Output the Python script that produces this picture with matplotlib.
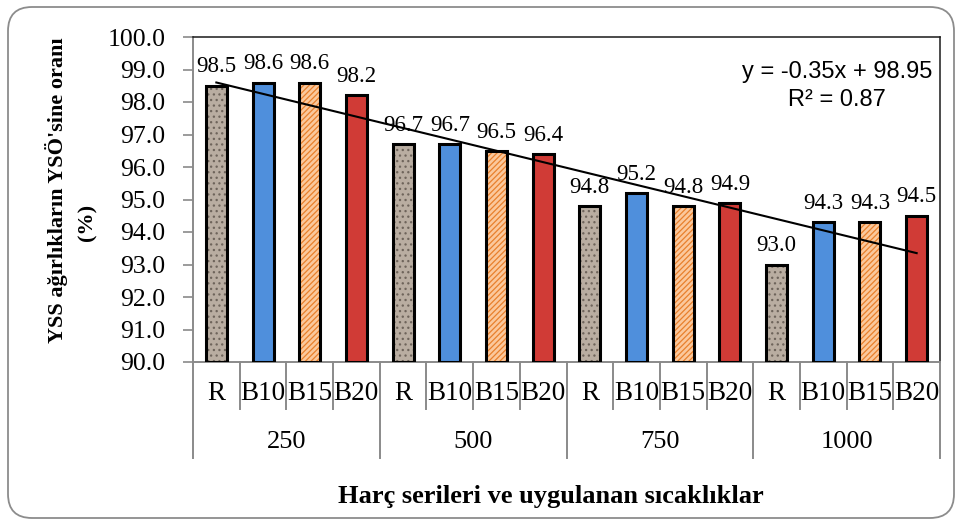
import matplotlib
matplotlib.use("Agg")
import matplotlib.pyplot as plt
import numpy as np
from matplotlib.patches import FancyBboxPatch
from matplotlib.transforms import IdentityTransform, blended_transform_factory

# ---- data ----
groups = ["250", "500", "750", "1000"]
series = ["R", "B10", "B15", "B20"]
values_250 = [98.5, 98.6, 98.6, 98.2]
values_500 = [96.7, 96.7, 96.5, 96.4]
values_750 = [94.8, 95.2, 94.8, 94.9]
values_1000 = [93.0, 94.3, 94.3, 94.5]
trend_slope = -0.35
trend_intercept = 98.95
r_squared = 0.87
y_ticks = [90.0, 91.0, 92.0, 93.0, 94.0, 95.0, 96.0, 97.0, 98.0, 99.0, 100.0]

all_values = values_250 + values_500 + values_750 + values_1000
n = len(all_values)
x = np.arange(1, n + 1)

plt.rcParams['font.family'] = ['Liberation Serif', 'DejaVu Serif']
plt.rcParams['hatch.linewidth'] = 0.9

W, H = 958, 523
fig = plt.figure(figsize=(W / 100, H / 100), dpi=100)
fig.patch.set_facecolor('white')

# outer rounded frame
frame = FancyBboxPatch((8, 5), 946, 511, boxstyle="round,pad=0,rounding_size=24",
                       transform=IdentityTransform(), facecolor='none',
                       edgecolor='#8c8c8c', linewidth=1.3)
fig.patches.append(frame)

left_px, right_px, top_px, bot_px = 193, 940, 37, 362
ax = fig.add_axes([left_px / W, 1 - bot_px / H, (right_px - left_px) / W, (bot_px - top_px) / H])
axh = bot_px - top_px

ax.set_xlim(0.5, n + 0.5)
ax.set_ylim(90, 100)

styles = {
    "R": dict(face='#b9ada1', hatch='...', hcol='#6e645b'),
    "B10": dict(face='#4f8fdc', hatch=None, hcol=None),
    "B15": dict(face='#fbc89c', hatch='//////', hcol='#e8802c'),
    "B20": dict(face='#d03b36', hatch=None, hcol=None),
}
bw = 0.45
for i, v in enumerate(all_values):
    s = series[i % 4]
    st = styles[s]
    if st['hatch']:
        ax.bar(x[i], v - 90, bottom=90, width=bw, color=st['face'], edgecolor=st['hcol'],
               hatch=st['hatch'], linewidth=0, zorder=2)
    else:
        ax.bar(x[i], v - 90, bottom=90, width=bw, color=st['face'], linewidth=0, zorder=2)
    ax.bar(x[i], v - 90, bottom=90, width=bw, fill=False, edgecolor='black',
           linewidth=2.2, zorder=3)
    ax.annotate(f"{v:.1f}", (x[i], v), xytext=(0, 13.5), textcoords='offset points',
                ha='center', va='center', fontsize=16.5, zorder=5)

# trendline
xt = np.array([1, n])
ax.plot(xt, trend_slope * xt + trend_intercept, color='black', linewidth=1.5, zorder=4)

# equation
fig.text(837 / W, 1 - 86 / H, f"y = {trend_slope}x + {trend_intercept}\nR² = {r_squared}",
         ha='center', va='center', multialignment='center', fontsize=17,
         family=['Liberation Sans', 'DejaVu Sans'], linespacing=1.3)

# spines
for sp in ['top', 'right']:
    ax.spines[sp].set_color('#1a1a1a')
    ax.spines[sp].set_linewidth(1.1)
for sp in ['left', 'bottom']:
    ax.spines[sp].set_color('#8a8a8a')
    ax.spines[sp].set_linewidth(1.4)

ax.set_yticks(y_ticks)
ax.set_yticklabels([f"{t:.1f}" for t in y_ticks], fontsize=18.5)
ax.tick_params(axis='y', direction='out', length=7, width=1.2, color='#8a8a8a', pad=13)
ax.set_xticks([])

# category axis separators and labels
trans = blended_transform_factory(ax.transData, ax.transAxes)
sub_depth = -(409 - bot_px) / axh
grp_depth = -(458 - bot_px) / axh
for k in range(n + 1):
    xx = 0.5 + k
    depth = grp_depth if k % 4 == 0 else sub_depth
    ax.plot([xx, xx], [0, depth], transform=trans, color='#8a8a8a', linewidth=1.4,
            clip_on=False, zorder=1)
for i in range(n):
    ax.text(x[i], -(394 - bot_px) / axh, series[i % 4], transform=trans, ha='center',
            va='center', fontsize=19.5)
for g, name in enumerate(groups):
    ax.text(2.5 + 4 * g, -(442 - bot_px) / axh, name, transform=trans, ha='center',
            va='center', fontsize=19)

# axis titles
fig.text(551 / W, 1 - 496 / H, "Harç serileri ve uygulanan sıcaklıklar", ha='center',
         va='center', fontsize=19, fontweight='bold')
fig.text(56 / W, 1 - 190 / H, "YSS ağırlıkların YSÖ'sine oranı", ha='center', va='center',
         rotation=90, fontsize=16, fontweight='bold')
fig.text(87 / W, 1 - 222 / H, "(%)", ha='center', va='center', rotation=90,
         fontsize=16, fontweight='bold')

fig.savefig("out.png", dpi=100)
